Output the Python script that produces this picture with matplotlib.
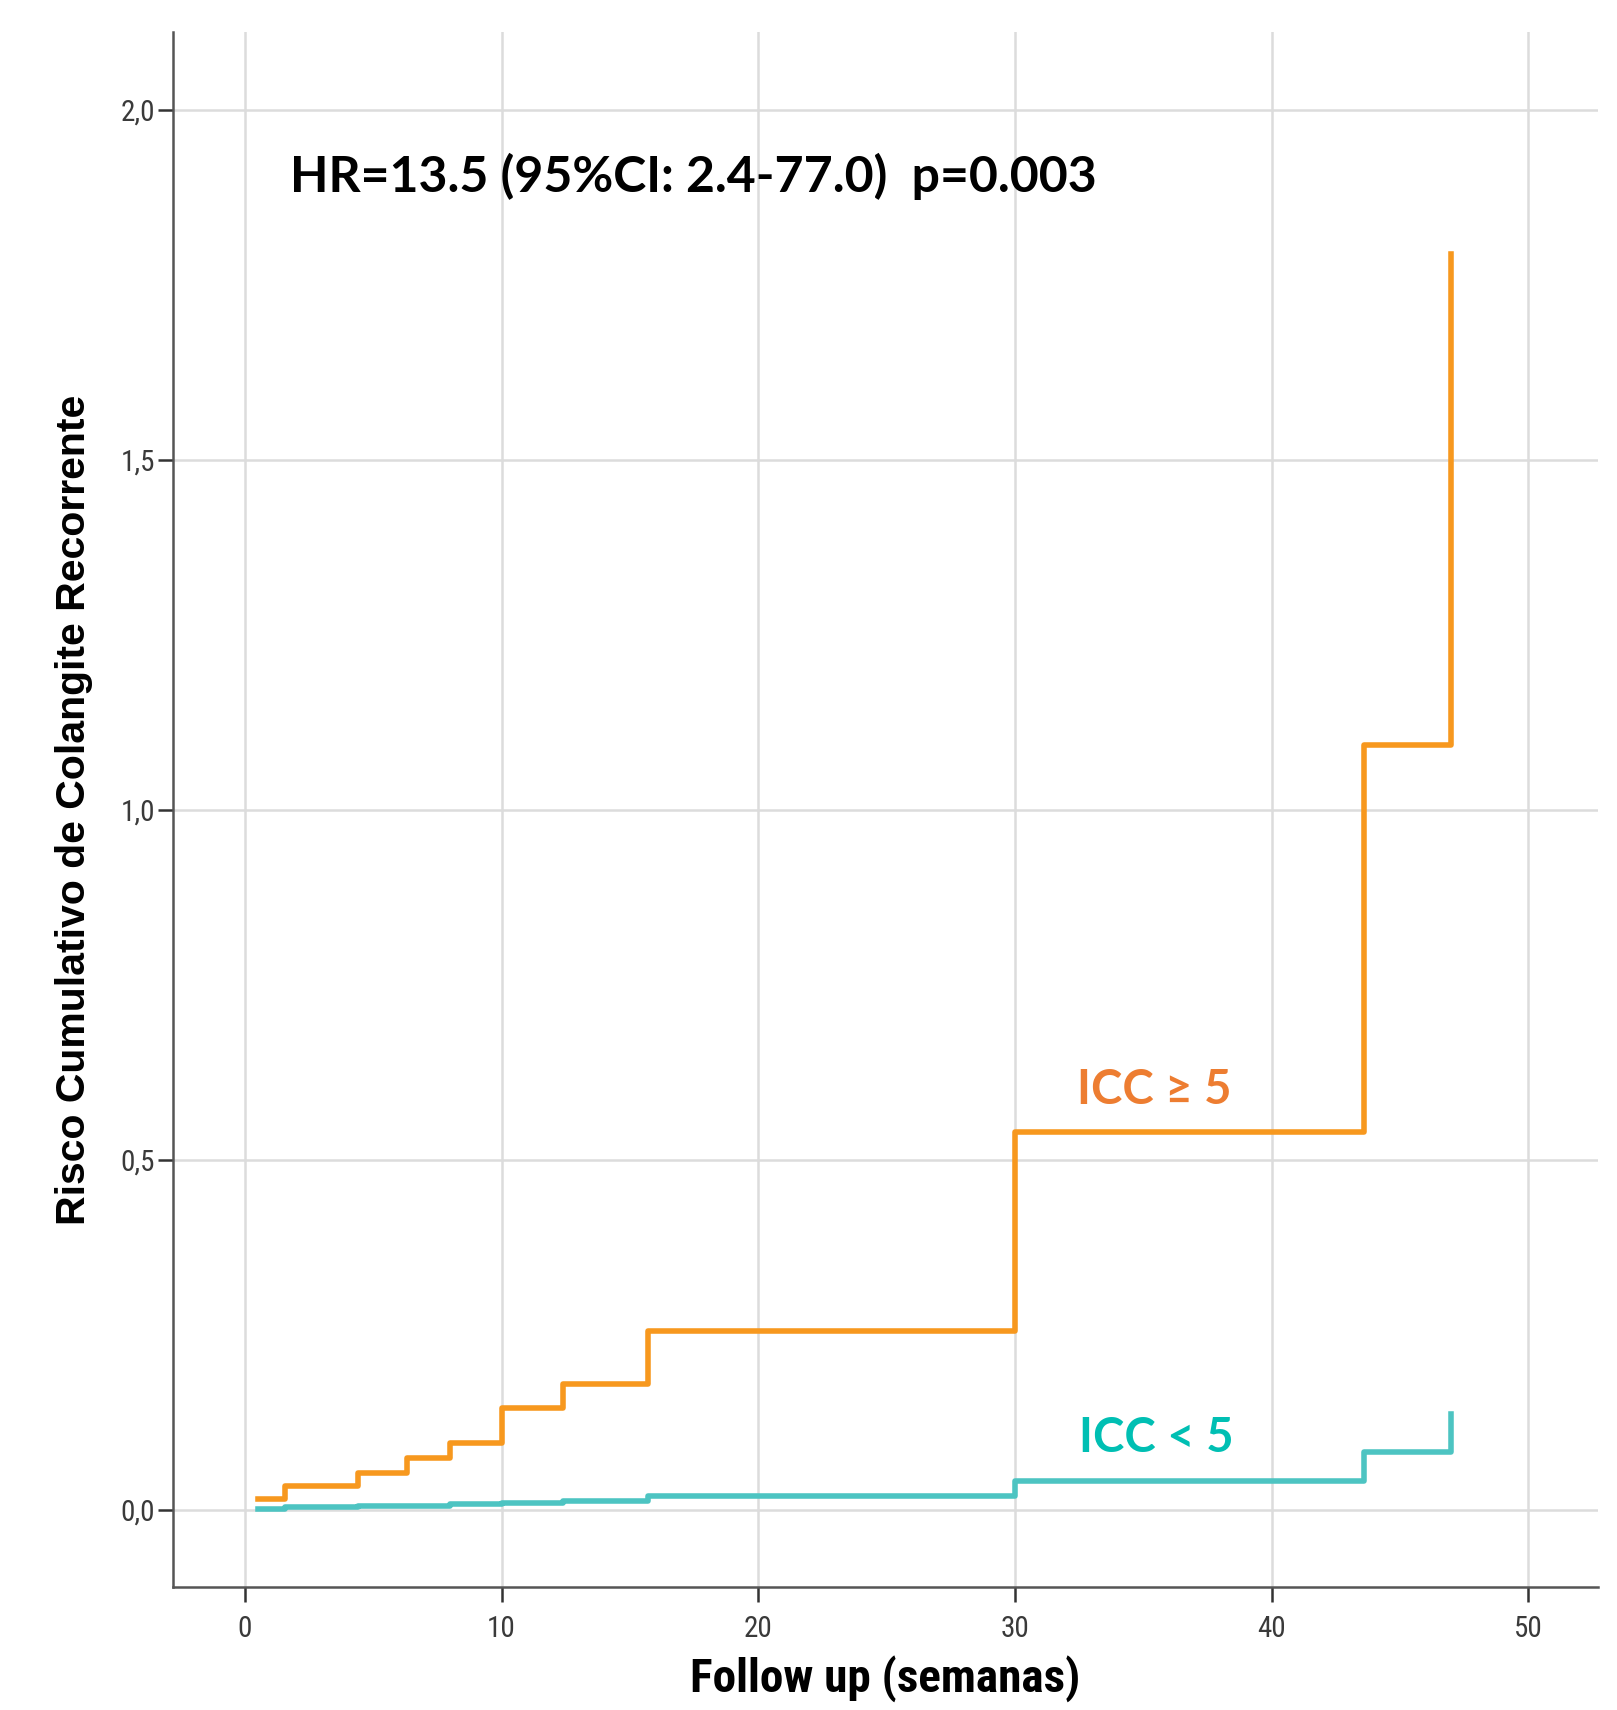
import matplotlib
matplotlib.use("Agg")
import matplotlib.pyplot as plt
from matplotlib import font_manager as fm

# event times (semanas) and cumulative hazard per group
weeks = [0.5, 1.55, 4.4, 6.3, 8.0, 10.0, 12.4, 15.7, 30.0, 43.6, 47.0]
risk_high = [0.015, 0.034, 0.052, 0.074, 0.095, 0.146, 0.180, 0.256, 0.540, 1.093, 1.794]
risk_low = [0.001, 0.004, 0.005, 0.006, 0.008, 0.010, 0.013, 0.020, 0.041, 0.082, 0.137]

xticks = [0, 10, 20, 30, 40, 50]
yticks = [0.0, 0.5, 1.0, 1.5, 2.0]
ytick_labels = ["0,0", "0,5", "1,0", "1,5", "2,0"]


def pick(names):
    for n in names:
        try:
            fm.findfont(fm.FontProperties(family=n), fallback_to_default=False)
            return n
        except Exception:
            pass
    return "DejaVu Sans"


narrow = pick(["Liberation Sans Narrow", "Roboto Condensed", "Liberation Sans"])
annot = pick(["Lato", "Open Sans", "DejaVu Sans"])
label_font = pick(["Liberation Sans", "DejaVu Sans"])

fig = plt.figure(figsize=(16.17, 17.10), dpi=100)
ax = fig.add_axes([0.107, 0.072, 0.881, 0.909])

ax.step(weeks, risk_high, where="post", color="#F7981E", lw=4.0, zorder=3)
ax.step(weeks, risk_low, where="post", color="#4DC4C2", lw=4.0, zorder=3)

ax.set_xlim(-2.8, 52.7)
ax.set_ylim(-0.11, 2.11)
ax.set_xticks(xticks)
ax.set_yticks(yticks)
ax.set_yticklabels(ytick_labels)
ax.grid(True, color="#DCDCDC", lw=1.8)
ax.set_axisbelow(True)

for s in ["top", "right"]:
    ax.spines[s].set_visible(False)
for s in ["left", "bottom"]:
    ax.spines[s].set_color("#555555")
    ax.spines[s].set_linewidth(1.8)

ax.tick_params(axis="both", length=11, width=1.8, color="#333333",
               labelcolor="#3a3a3a", labelsize=21, pad=2)
for lab in ax.get_xticklabels() + ax.get_yticklabels():
    lab.set_family(narrow)
ax.tick_params(axis="x", pad=9)

ax.set_xlabel("Follow up (semanas)", fontsize=34, family=narrow,
              fontweight="bold", labelpad=9)
ax.set_ylabel("Risco Cumulativo de Colangite Recorrente", fontsize=29.5,
              family=label_font, fontweight="bold", labelpad=20)

ax.text(1.75, 1.905, "HR=13.5 (95%CI: 2.4-77.0)  p=0.003", fontsize=36,
        family=annot, fontweight="bold", va="center", ha="left")
ax.text(32.4, 0.60, "ICC \u2265 5", fontsize=34, family=[annot, "DejaVu Sans"],
        fontweight="bold", color="#ED7D31", va="center", ha="left")
ax.text(32.5, 0.102, "ICC < 5", fontsize=34, family=annot,
        fontweight="bold", color="#00BFB3", va="center", ha="left")

fig.savefig("out.png", dpi=100)
